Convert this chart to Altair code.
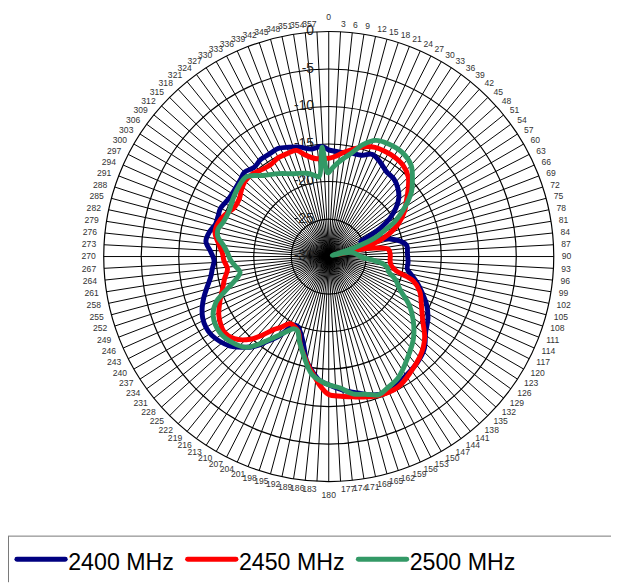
import altair as alt
import pandas as pd

# ---------------- data ----------------
tick_angles = list(range(0, 360, 3))
ring_values = [0, -5, -10, -15, -20, -25, -30]
series_names = ["2400 MHz", "2450 MHz", "2500 MHz"]
series_colors = ["#000080", "#FF0000", "#339966"]

ang_2400 = [0, 6, 12, 18, 23, 28, 34, 40, 45, 50, 54, 58, 61, 63, 65, 67, 70, 74, 78, 82,
            88, 94, 99, 103, 107, 111, 116, 122, 128, 134, 140, 148, 155, 162, 168, 174,
            180, 184, 188, 192, 196, 200, 204, 207, 212, 216, 220, 224, 228, 232, 236,
            240, 244, 248, 252, 256, 260, 264, 268, 272, 277, 282, 286, 290, 294, 300,
            306, 311, 315, 320, 325, 330, 335, 340, 345, 351, 356]
db_2400 = [-15.8, -16.0, -15.9, -15.8, -15.2, -15.6, -16.3, -16.5, -17.0, -17.8, -18.9,
           -20.4, -22.0, -23.7, -25.3, -24.6, -23.2, -21.5, -20.2, -19.5, -19.5, -19.4,
           -19.4, -18.6, -17.6, -16.7, -15.5, -14.4, -13.6, -12.3, -11.6, -11.0, -10.3,
           -10.6, -11.4, -12.1, -12.9, -13.4, -14.5, -15.8, -17.8, -19.1, -19.8, -19.7,
           -17.5, -16.0, -14.3, -13.2, -12.2, -11.6, -11.2, -11.1, -11.3, -11.8, -12.5,
           -13.3, -14.0, -14.4, -14.7, -14.3, -13.5, -13.8, -14.3, -14.3, -14.2, -14.6,
           -14.6, -14.4, -14.1, -14.5, -14.2, -14.2, -14.1, -14.5, -14.9, -15.5, -15.3]

ang_2450 = [0, 4, 8, 13, 18, 23, 28, 33, 39, 45, 50, 55, 59, 65, 71, 74, 75.5, 76.5, 77.5,
            80, 83, 88, 94, 98, 102, 106, 111, 118, 124, 130, 134, 138, 144, 152, 160,
            166, 170, 175, 180, 184, 187, 190, 194, 198, 202, 206, 210, 214, 217, 220,
            223.5, 229, 234, 238, 242, 247, 253, 258, 263, 268, 272, 276, 282, 287, 292,
            297, 303, 307, 312, 317, 323, 328, 333, 338, 343, 347, 352, 356]
db_2450 = [-16.9, -16.6, -16.0, -15.3, -14.6, -14.2, -14.1, -14.1, -14.3, -15.0, -16.2,
           -17.4, -18.2, -19.8, -22.1, -24.0, -26.5, -28.8, -25.4, -23.5, -22.0, -21.8,
           -21.8, -21.6, -20.8, -18.3, -17.0, -16.0, -14.9, -13.3, -12.5, -11.9, -11.2,
           -10.3, -10.3, -10.7, -11.0, -11.3, -11.6, -12.8, -14.0, -15.0, -16.4, -17.7,
           -19.2, -19.6, -19.7, -18.6, -17.8, -16.4, -14.8, -13.3, -12.8, -13.0, -13.4,
           -14.2, -15.2, -15.8, -16.4, -16.0, -15.8, -15.3, -14.5, -14.6, -15.1, -15.8,
           -15.8, -15.4, -15.0, -15.0, -15.4, -15.5, -15.2, -15.2, -15.2, -16.1, -16.8,
           -16.9]

ang_2500 = [0, 4, 8, 12, 17, 22, 28, 35, 42, 48, 52, 55, 58, 62, 65, 68, 71, 73, 76, 80,
            86, 91, 95, 98, 101, 104, 109, 115, 121, 127, 134, 142, 150, 156, 160, 165,
            170, 175, 181, 188, 194, 199, 203, 206, 209, 212, 217, 222, 228, 235, 243,
            248, 251, 254, 257, 260, 264, 268, 272, 276, 280, 284, 288, 294, 301, 308,
            314, 321, 329, 337, 345, 350, 353, 356.5, 359]
db_2500 = [-18.8, -17.8, -16.9, -16.0, -14.4, -13.3, -13.0, -13.0, -13.6, -15.0, -16.0,
           -17.1, -18.3, -20.0, -21.8, -23.3, -26.2, -29.5, -28.5, -26.8, -26.2, -25.6,
           -24.0, -22.6, -22.0, -21.8, -20.6, -19.5, -17.5, -15.9, -14.3, -12.9, -11.4,
           -10.8, -10.4, -11.0, -11.4, -12.4, -13.0, -14.1, -16.3, -18.0, -19.3, -19.3,
           -18.6, -17.7, -15.8, -13.7, -12.8, -12.3, -12.7, -13.8, -15.2, -16.5, -17.5,
           -18.0, -17.5, -16.9, -16.5, -15.9, -15.0, -14.8, -15.2, -15.4, -15.1, -14.8,
           -14.7, -16.1, -17.1, -18.0, -18.5, -19.0, -19.3, -15.4, -18.8]

series_data = [(ang_2400, db_2400), (ang_2450, db_2450), (ang_2500, db_2500)]

# ---------------- layout ----------------
W, H = 611, 578
CX, CY, R = 325, 248, 228
DB_MIN, DB_MAX = -30, 0
LR = 236
FONT = "Liberation Sans, Arial, sans-serif"

xs = alt.Scale(domain=[0, W], range=[0, W], nice=False, zero=False)
ys = alt.Scale(domain=[0, H], range=[0, H], nice=False, zero=False)


def X(f):
    return alt.X(f, type="quantitative", scale=xs, axis=None)


def Y(f):
    return alt.Y(f, type="quantitative", scale=ys, axis=None)


RADIUS = f"(datum.db - ({DB_MIN})) / {DB_MAX - DB_MIN} * {R}"

# spokes
spokes = alt.Chart(pd.DataFrame({"angle": tick_angles})).transform_calculate(
    a="datum.angle * PI / 180"
).transform_calculate(
    x0=f"{CX}", y0=f"{CY}",
    x1=f"{CX} + {R} * sin(datum.a)", y1=f"{CY} - {R} * cos(datum.a)"
).mark_rule(color="black", strokeWidth=1).encode(
    x=X("x0"), y=Y("y0"), x2="x1:Q", y2="y1:Q"
)

# rings
ring_df = pd.DataFrame({"db": ring_values[:-1]})
rings = alt.Chart(ring_df).transform_calculate(
    r=RADIUS
).transform_calculate(
    s="pow(2 * datum.r, 2)", cx=f"{CX}", cy=f"{CY}"
).mark_point(shape="circle", filled=False, color="black", strokeWidth=1.2, opacity=1).encode(
    x=X("cx"), y=Y("cy"), size=alt.Size("s:Q", scale=None)
)

# ring labels
rl_df = pd.DataFrame({"db": ring_values, "label": [str(v) for v in ring_values]})
ring_labels = alt.Chart(rl_df).transform_calculate(
    r=RADIUS
).transform_calculate(
    lx=f"{CX} - 15", ly=f"{CY} - datum.r"
).mark_text(align="right", baseline="middle", fontSize=14, font=FONT, color="#222").encode(
    x=X("lx"), y=Y("ly"), text="label:N"
)

# angle labels
ang_df = pd.DataFrame({"angle": tick_angles, "label": [str(a) for a in tick_angles]})


def angle_layer(filt, align, baseline, dy=0):
    return alt.Chart(ang_df).transform_filter(filt).transform_calculate(
        a="datum.angle * PI / 180"
    ).transform_calculate(
        lx=f"{CX} + {LR} * sin(datum.a)", ly=f"{CY} - {LR} * cos(datum.a)"
    ).mark_text(align=align, baseline=baseline, fontSize=8.7, font=FONT,
                color="#333", dy=dy).encode(
        x=X("lx"), y=Y("ly"), text="label:N"
    )


ang_right = angle_layer("datum.angle > 0 && datum.angle < 180", "left", "middle")
ang_left = angle_layer("datum.angle > 180", "right", "middle")
ang_top = angle_layer("datum.angle == 0", "center", "bottom", -2)
ang_bottom = angle_layer("datum.angle == 180", "center", "top", 2)

# curves
curve_layers = []
for name, color, (angs, dbs) in zip(series_names, series_colors, series_data):
    a_list = list(angs) + [angs[0] + 360]
    d_list = list(dbs) + [dbs[0]]
    df = pd.DataFrame({"idx": range(len(a_list)), "angle": a_list, "db": d_list})
    layer = alt.Chart(df).transform_calculate(
        a="datum.angle * PI / 180", r=RADIUS
    ).transform_calculate(
        x=f"{CX} + datum.r * sin(datum.a)", y=f"{CY} - datum.r * cos(datum.a)"
    ).mark_line(color=color, strokeWidth=5, interpolate="catmull-rom",
                strokeJoin="round", strokeCap="round").encode(
        x=X("x"), y=Y("y"), order="idx:Q"
    )
    curve_layers.append(layer)

# legend
leg_df = pd.DataFrame({"name": series_names, "color": series_colors,
                       "i": range(len(series_names))})
leg_base = alt.Chart(leg_df).transform_calculate(
    lx1="9 + datum.i * 173", ly="554.7"
).transform_calculate(
    lx2="datum.lx1 + 49", tx="datum.lx1 + 52", ty="565.3"
)
leg_lines = leg_base.mark_rule(strokeWidth=5, strokeCap="round").encode(
    x=X("lx1"), x2="lx2:Q", y=Y("ly"),
    color=alt.Color("name:N", scale=alt.Scale(domain=series_names, range=series_colors),
                    legend=None)
)
leg_text = leg_base.mark_text(align="left", baseline="alphabetic", fontSize=23.5,
                              font=FONT, color="black").encode(
    x=X("tx"), y=Y("ty"), text="name:N"
)
border_df = pd.DataFrame({"x1": [0, 0.5], "x2": [W, 0.5], "y1": [531.3, 531.3], "y2": [531.3, H]})
leg_border = alt.Chart(border_df).mark_rule(color="#777", strokeWidth=1).encode(
    x=X("x1"), x2="x2:Q", y=Y("y1"), y2="y2:Q"
)

chart = alt.layer(
    spokes, rings, ring_labels, ang_right, ang_left, ang_top, ang_bottom,
    *curve_layers, leg_border, leg_lines, leg_text
).properties(
    width=W, height=H, autosize=alt.AutoSizeParams(type="none"), padding=0
).configure_view(strokeWidth=0)

chart.save("out.html", embed_options={"renderer": "svg", "actions": False})
